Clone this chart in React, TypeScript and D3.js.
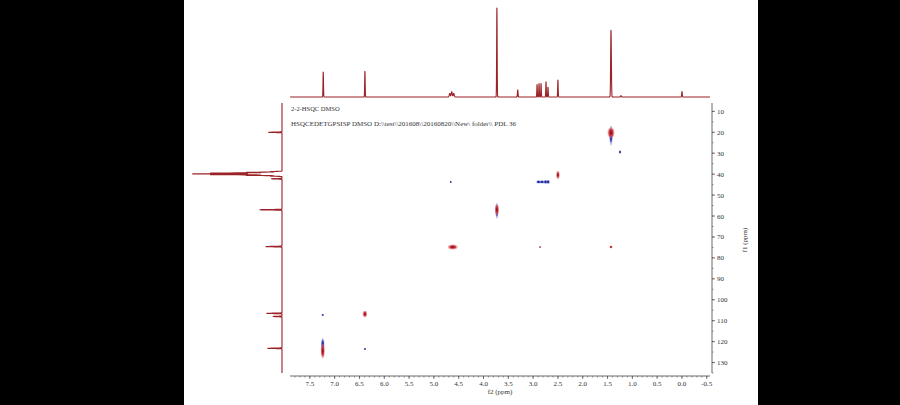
import React from "react";
import * as d3 from "d3";

// ---- data ----
const f2Ticks = [7.5, 7.0, 6.5, 6.0, 5.5, 5.0, 4.5, 4.0, 3.5, 3.0, 2.5, 2.0, 1.5, 1.0, 0.5, 0.0, -0.5];
const f1Ticks = [10, 20, 30, 40, 50, 60, 70, 80, 90, 100, 110, 120, 130];

// 1H projection (top)
const hShift = [7.23, 6.39, 4.68, 4.64, 4.60, 3.73, 3.31, 2.92, 2.88, 2.84, 2.74, 2.70, 2.50, 1.43, 1.23, 0.0];
const hHeight = [28, 29, 4, 6, 4, 100, 8, 14, 15, 15, 17, 11, 19, 75, 1.5, 6];
const hWidth = [0.005, 0.005, 0.01, 0.01, 0.01, 0.005, 0.006, 0.005, 0.005, 0.005, 0.005, 0.005, 0.005, 0.007, 0.008, 0.006];

// 13C projection (left)
const cShift = [20.0, 38.8, 39.15, 39.5, 39.85, 40.2, 40.55, 40.9, 42.2, 57.0, 74.6, 106.5, 108.0, 123.2];
const cHeight = [15, 13, 40, 80, 100, 80, 40, 13, 12, 25, 18, 17, 10, 16];
const cWidth = [0.1, 0.1, 0.1, 0.1, 0.1, 0.1, 0.1, 0.1, 0.1, 0.1, 0.1, 0.1, 0.1, 0.1];

// HSQC cross peaks: f2, f1, half-widths (ppm), phase (+1 red, -1 blue)
const cpF2 = [1.43, 1.43, 1.25, 2.50, 2.89, 2.82, 2.75, 2.70, 4.66, 3.73, 3.73, 4.62, 1.43, 2.86, 7.24, 6.39, 6.39, 7.24, 7.24];
const cpF1 = [21.5, 20.2, 29.4, 40.4, 43.7, 43.7, 43.7, 43.7, 43.7, 57.5, 57.0, 74.8, 74.8, 74.8, 107.3, 106.8, 123.5, 121.5, 124.5];
const cpRx = [0.035, 0.07, 0.025, 0.035, 0.05, 0.05, 0.04, 0.04, 0.02, 0.03, 0.04, 0.1, 0.03, 0.02, 0.025, 0.045, 0.025, 0.035, 0.04];
const cpRy = [4.8, 2.6, 0.8, 2.0, 0.8, 0.8, 0.9, 0.9, 0.5, 3.8, 2.6, 1.2, 0.7, 0.4, 0.5, 1.6, 0.5, 3.2, 3.6];
const cpSign = [-1, 1, -1, 1, -1, -1, -1, -1, -1, -1, 1, 1, 1, 1, -1, 1, -1, -1, 1];

const title1 = "2-2-HSQC DMSO";
const title2 = "HSQCEDETGPSISP DMSO D:\\\\test\\\\201608\\\\20160820\\\\New\\ folder\\\\ PDL 36";

// ---- layout ----
const W = 900;
const H = 405;
const font = "'Liberation Serif', 'DejaVu Serif', serif";
const specColor = "#9b2226";

export default function App() {
  const x = d3.scaleLinear().domain([7.9, -0.565]).range([290, 710]);
  const y = d3.scaleLinear().domain([6, 135]).range([103, 373]);
  const topY = d3.scaleLinear().domain([0, 100]).range([97, 8]);
  const leftX = d3.scaleLinear().domain([0, 100]).range([282, 193]);

  const gauss = (v: number, c: number, h: number, w: number) => {
    const z = (v - c) / w;
    return z * z > 60 ? 0 : h * Math.exp(-0.5 * z * z);
  };

  const hGrid = d3.range(-0.565, 7.9, 0.001).concat(hShift);
  hGrid.sort((a, b) => a - b);
  const hData = hGrid.map((v) => [v, d3.sum(hShift, (c, i) => gauss(v, c, hHeight[i], hWidth[i]))] as [number, number]);
  const topLine = d3
    .line<[number, number]>()
    .x((d) => x(d[0]))
    .y((d) => topY(d[1]))(hData);

  const cGrid = d3.range(6, 135, 0.02).concat(cShift);
  cGrid.sort((a, b) => a - b);
  const cData = cGrid.map((v) => [v, d3.sum(cShift, (c, i) => gauss(v, c, cHeight[i], cWidth[i]))] as [number, number]);
  const leftLine = d3
    .line<[number, number]>()
    .x((d) => leftX(d[1]))
    .y((d) => y(d[0]))(cData);

  const pxPerPpmX = Math.abs(x(1) - x(0));
  const pxPerPpmY = Math.abs(y(1) - y(0));

  const levels = [1, 0.72, 0.45, 0.22];
  const redCols = ["#e07a7a", "#cc3a3f", "#b01e28", "#7a0d16"];
  const blueCols = ["#7f8ad8", "#3b47c0", "#1f269c", "#10146a"];

  const f2Minor = d3.range(-0.5, 7.9, 0.1);
  const f1Minor = d3.range(10, 136, 5);

  return (
    <div style={{ position: "fixed", left: 0, top: 0, width: W, height: H }}>
      <svg width={W} height={H} style={{ display: "block" }}>
        <rect x={0} y={0} width={W} height={H} fill="#ffffff" />
        <rect x={0} y={0} width={184} height={H} fill="#000000" />
        <rect x={758} y={0} width={W - 758} height={H} fill="#000000" />

        {/* top 1H projection */}
        <path d={topLine || ""} fill="none" stroke={specColor} strokeWidth={1.1} strokeLinejoin="round" />

        {/* left 13C projection */}
        <path d={leftLine || ""} fill="none" stroke={specColor} strokeWidth={1.1} strokeLinejoin="round" />

        {/* header text */}
        <text x={291} y={111} fontFamily={font} fontSize={6.5} fill="#333">
          {title1}
        </text>
        <text x={291} y={126} fontFamily={font} fontSize={6.5} fill="#333" textLength={225} lengthAdjust="spacingAndGlyphs">
          {title2}
        </text>

        {/* cross peaks */}
        {cpF2.map((f2, i) =>
          levels.map((lv, k) => (
            <ellipse
              key={`cp${i}-${k}`}
              cx={x(f2)}
              cy={y(cpF1[i])}
              rx={Math.max(0.5, cpRx[i] * pxPerPpmX * lv)}
              ry={Math.max(0.5, cpRy[i] * pxPerPpmY * lv)}
              fill={cpSign[i] > 0 ? redCols[k] : blueCols[k]}
              opacity={k === 0 ? 0.55 : 0.9}
            />
          ))
        )}

        {/* bottom f2 axis */}
        <line x1={290} x2={710} y1={376} y2={376} stroke="#444" strokeWidth={0.8} />
        {f2Minor.map((t, i) => (
          <line key={`m2${i}`} x1={x(t)} x2={x(t)} y1={376} y2={377.5} stroke="#555" strokeWidth={0.6} />
        ))}
        {f2Ticks.map((t) => (
          <g key={`t2${t}`}>
            <line x1={x(t)} x2={x(t)} y1={376} y2={379} stroke="#444" strokeWidth={0.7} />
            <text x={x(t)} y={385.5} textAnchor="middle" fontFamily={font} fontSize={7} fill="#333">
              {t.toFixed(1)}
            </text>
          </g>
        ))}
        <text x={500} y={394} textAnchor="middle" fontFamily={font} fontSize={7} fill="#333">
          f2 (ppm)
        </text>

        {/* right f1 axis */}
        <line x1={712} x2={712} y1={103} y2={373} stroke="#444" strokeWidth={0.8} />
        {f1Minor.map((t, i) => (
          <line key={`m1${i}`} x1={712} x2={713.5} y1={y(t)} y2={y(t)} stroke="#555" strokeWidth={0.6} />
        ))}
        {f1Ticks.map((t) => (
          <g key={`t1${t}`}>
            <line x1={712} x2={715} y1={y(t)} y2={y(t)} stroke="#444" strokeWidth={0.7} />
            <text x={717} y={y(t) + 2.5} fontFamily={font} fontSize={7} fill="#333">
              {t}
            </text>
          </g>
        ))}
        <text
          transform="translate(747,240) rotate(-90)"
          textAnchor="middle"
          fontFamily={font}
          fontSize={7}
          fill="#333"
        >
          f1 (ppm)
        </text>
      </svg>
    </div>
  );
}
